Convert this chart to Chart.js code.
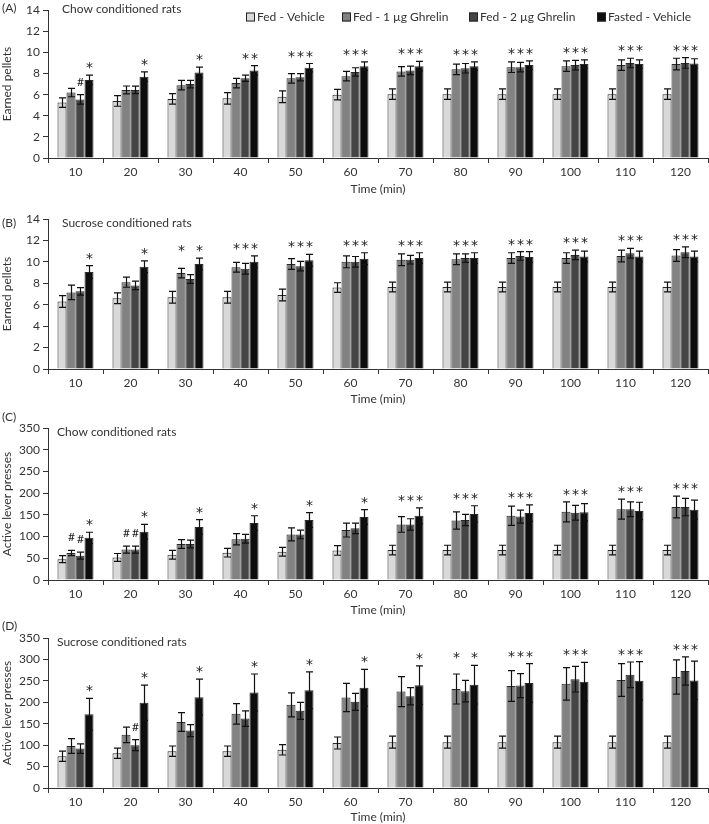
<!DOCTYPE html>
<html>
<head>
<meta charset="utf-8">
<script src="https://cdn.jsdelivr.net/npm/chart.js@4.4.1/dist/chart.umd.min.js"></script>
<style>
  html, body { margin: 0; padding: 0; background: #fff; }
  #wrap { position: relative; width: 709px; height: 824px; }
  .panel { position: absolute; left: 0; width: 709px; }
  canvas { display: block; }
</style>
</head>
<body>
<div id="wrap">
  <div class="panel" style="top:0px"><canvas id="cA" width="709" height="196"></canvas></div>
  <div class="panel" style="top:198px"><canvas id="cB" width="709" height="208"></canvas></div>
  <div class="panel" style="top:406px"><canvas id="cC" width="709" height="211"></canvas></div>
  <div class="panel" style="top:617px"><canvas id="cD" width="709" height="207"></canvas></div>
</div>
<script>
// ---- data ----
var times = ['10', '20', '30', '40', '50', '60', '70', '80', '90', '100', '110', '120'];
var groupNames = ['Fed - Vehicle', 'Fed - 1 \u00b5g Ghrelin', 'Fed - 2 \u00b5g Ghrelin', 'Fasted - Vehicle'];
var barColors = ['#d9d9d9', '#828282', '#454545', '#0d0d0d'];

// (A) chow conditioned, earned pellets
var aVeh      = [5.25, 5.4, 5.6, 5.65, 5.8, 6.0, 6.05, 6.05, 6.05, 6.05, 6.05, 6.05];
var aVehErr   = [0.45, 0.5, 0.5, 0.55, 0.55, 0.5, 0.5, 0.5, 0.5, 0.5, 0.5, 0.5];
var a1ug      = [6.2, 6.45, 6.9, 7.1, 7.55, 7.75, 8.2, 8.4, 8.6, 8.7, 8.8, 8.9];
var a1ugErr   = [0.4, 0.37, 0.45, 0.45, 0.45, 0.45, 0.45, 0.5, 0.5, 0.5, 0.5, 0.55];
var a2ug      = [5.55, 6.45, 7.0, 7.55, 7.65, 8.15, 8.3, 8.5, 8.6, 8.8, 9.0, 9.0];
var a2ugErr   = [0.45, 0.35, 0.35, 0.3, 0.35, 0.4, 0.4, 0.45, 0.45, 0.45, 0.45, 0.5];
var aFast     = [7.4, 7.7, 8.1, 8.3, 8.55, 8.7, 8.7, 8.7, 8.8, 8.9, 8.9, 8.95];
var aFastErr  = [0.45, 0.45, 0.5, 0.45, 0.4, 0.4, 0.45, 0.4, 0.4, 0.4, 0.4, 0.45];
var aSig = [['', '', '#', '*'], ['', '', '', '*'], ['', '', '', '*'], ['', '', '*', '*'],
            ['', '*', '*', '*'], ['', '*', '*', '*'], ['', '*', '*', '*'], ['', '*', '*', '*'],
            ['', '*', '*', '*'], ['', '*', '*', '*'], ['', '*', '*', '*'], ['', '*', '*', '*']];

// (B) sucrose conditioned, earned pellets
var bVeh      = [6.3, 6.6, 6.7, 6.7, 6.9, 7.6, 7.65, 7.65, 7.65, 7.65, 7.65, 7.65];
var bVehErr   = [0.55, 0.5, 0.55, 0.55, 0.55, 0.45, 0.45, 0.45, 0.45, 0.45, 0.45, 0.45];
var b1ug      = [7.15, 8.1, 8.95, 9.5, 9.8, 10.0, 10.2, 10.25, 10.35, 10.35, 10.55, 10.6];
var b1ugErr   = [0.68, 0.47, 0.45, 0.45, 0.5, 0.55, 0.55, 0.5, 0.5, 0.5, 0.55, 0.55];
var b2ug      = [7.25, 7.8, 8.4, 9.35, 9.6, 10.0, 10.2, 10.35, 10.55, 10.65, 10.8, 10.9];
var b2ugErr   = [0.35, 0.4, 0.4, 0.5, 0.45, 0.5, 0.4, 0.4, 0.4, 0.45, 0.45, 0.5];
var bFast     = [9.05, 9.55, 9.8, 10.0, 10.15, 10.3, 10.35, 10.35, 10.45, 10.5, 10.5, 10.5];
var bFastErr  = [0.6, 0.55, 0.55, 0.55, 0.55, 0.55, 0.5, 0.5, 0.5, 0.5, 0.5, 0.5];
var bSig = [['', '', '', '*'], ['', '', '', '*'], ['', '*', '', '*'], ['', '*', '*', '*'],
            ['', '*', '*', '*'], ['', '*', '*', '*'], ['', '*', '*', '*'], ['', '*', '*', '*'],
            ['', '*', '*', '*'], ['', '*', '*', '*'], ['', '*', '*', '*'], ['', '*', '*', '*']];

// (C) chow conditioned, active lever presses
var cVeh      = [48, 52, 58, 63, 65, 68, 69, 69, 69, 69, 69, 69];
var cVehErr   = [8, 9, 10, 10, 10, 11, 11, 11, 11, 11, 11, 11];
var c1ug      = [62, 70, 83, 94, 105, 115, 128, 137, 148, 157, 163, 168];
var c1ugErr   = [6, 8, 10, 13, 15, 16, 18, 20, 22, 23, 23, 25];
var c2ug      = [56, 70, 83, 95, 105, 119, 128, 138, 146, 155, 163, 168];
var c2ugErr   = [8, 8, 9, 10, 10, 12, 13, 13, 15, 17, 17, 20];
var cFast     = [97, 111, 122, 131, 138, 145, 148, 152, 154, 156, 159, 162];
var cFastErr  = [13, 17, 17, 17, 17, 17, 18, 19, 19, 20, 20, 22];
var cSig = [['', '#', '#', '*'], ['', '#', '#', '*'], ['', '', '', '*'], ['', '', '', '*'],
            ['', '', '', '*'], ['', '', '', '*'], ['', '*', '*', '*'], ['', '*', '*', '*'],
            ['', '*', '*', '*'], ['', '*', '*', '*'], ['', '*', '*', '*'], ['', '*', '*', '*']];

// (D) sucrose conditioned, active lever presses
var dVeh      = [74, 81, 86, 86, 89, 105, 107, 107, 107, 107, 107, 107];
var dVehErr   = [12, 12, 12, 12, 12, 14, 14, 14, 14, 14, 14, 14];
var d1ug      = [98, 124, 154, 173, 194, 211, 225, 231, 238, 243, 252, 259];
var d1ugErr   = [17, 18, 22, 24, 28, 33, 35, 35, 36, 38, 38, 40];
var d2ug      = [92, 100, 134, 162, 180, 201, 214, 226, 239, 254, 264, 273];
var d2ugErr   = [11, 13, 14, 18, 20, 20, 20, 25, 28, 30, 30, 33];
var dFast     = [172, 199, 212, 223, 228, 234, 240, 241, 245, 248, 250, 251];
var dFastErr  = [37, 41, 42, 43, 43, 43, 45, 45, 45, 45, 45, 45];
var dSig = [['', '', '', '*'], ['', '', '#', '*'], ['', '', '', '*'], ['', '', '', '*'],
            ['', '', '', '*'], ['', '', '', '*'], ['', '', '', '*'], ['', '*', '', '*'],
            ['', '*', '*', '*'], ['', '*', '*', '*'], ['', '*', '*', '*'], ['', '*', '*', '*']];

// ---- styling ----
var FONT = 'Lato, "DejaVu Sans", sans-serif';
var INK = '#333333';

// error bars + significance marks drawn through the y scale
var errorBarPlugin = {
  id: 'errbars',
  afterDatasetsDraw: function(chart) {
    var ctx = chart.ctx, y = chart.scales.y;
    var sig = chart.options.plugins.errbars.marks || [];
    ctx.save();
    ctx.strokeStyle = '#111';
    ctx.lineWidth = 1.2;
    var tops = [];
    chart.data.datasets.forEach(function(ds, i) {
      var meta = chart.getDatasetMeta(i);
      tops[i] = [];
      meta.data.forEach(function(bar, j) {
        var v = ds.data[j], e = ds.errors[j];
        var yt = y.getPixelForValue(v + e), yb = y.getPixelForValue(v - e);
        var x = Math.round(bar.x) + 0.5, cw = 3.5;
        tops[i][j] = yt;
        ctx.beginPath();
        ctx.moveTo(x, yt); ctx.lineTo(x, yb);
        ctx.moveTo(x - cw, yt); ctx.lineTo(x + cw, yt);
        ctx.moveTo(x - cw, yb); ctx.lineTo(x + cw, yb);
        ctx.stroke();
      });
    });
    ctx.fillStyle = '#222';
    ctx.textAlign = 'center';
    ctx.textBaseline = 'alphabetic';
    sig.forEach(function(row, j) {
      var starTop = Infinity;
      row.forEach(function(m, i) { if (m === '*') starTop = Math.min(starTop, tops[i][j]); });
      row.forEach(function(m, i) {
        if (!m) return;
        var bx = Math.round(chart.getDatasetMeta(i).data[j].x) + 0.5;
        if (m === '*') {
          ctx.font = '14px "DejaVu Sans", sans-serif';
          ctx.fillText('*', bx, starTop - 3);
        } else {
          ctx.font = '12px ' + FONT;
          ctx.fillText(m, bx, tops[i][j] - 9);
        }
      });
    });
    ctx.restore();
  }
};

// panel letter, in-plot title and legend
var panelTextPlugin = {
  id: 'panelText',
  afterDraw: function(chart) {
    var o = chart.options.plugins.panelText;
    var ctx = chart.ctx;
    ctx.save();
    ctx.fillStyle = INK;
    ctx.font = '12px ' + FONT;
    ctx.textBaseline = 'middle';
    ctx.textAlign = 'left';
    ctx.fillText(o.letter, o.letterX, o.letterY);
    ctx.fillText(o.title, o.titleX, o.titleY);
    if (o.legend) {
      o.legendX.forEach(function(lx, i) {
        ctx.fillStyle = barColors[i];
        ctx.fillRect(lx, o.legendY - 4.5, 9, 9);
        ctx.strokeStyle = '#222';
        ctx.lineWidth = 1;
        ctx.strokeRect(lx + 0.5, o.legendY - 4, 8, 8);
        ctx.fillStyle = INK;
        ctx.fillText(groupNames[i], lx + 11, o.legendY + 0.5);
      });
    }
    ctx.restore();
  }
};

function makePanel(id, p) {
  var datasets = p.values.map(function(vals, i) {
    return {
      label: groupNames[i],
      data: vals,
      errors: p.errors[i],
      backgroundColor: barColors[i],
      borderColor: '#2a2a2a',
      borderWidth: 1,
      categoryPercentage: 0.655,
      barPercentage: 1.0
    };
  });
  var tickFont = { family: FONT, size: 12 };
  return new Chart(document.getElementById(id), {
    type: 'bar',
    data: { labels: times, datasets: datasets },
    plugins: [errorBarPlugin, panelTextPlugin],
    options: {
      responsive: false,
      animation: false,
      events: [],
      layout: { padding: { top: p.chartTop - p.canvasTop, left: 0, right: 1, bottom: 0 } },
      plugins: {
        legend: { display: false },
        tooltip: { enabled: false },
        errbars: { marks: p.marks },
        panelText: {
          letter: p.letter, letterX: 2, letterY: p.letterY - p.canvasTop,
          title: p.title, titleX: p.titleX, titleY: p.titleY - p.canvasTop,
          legend: !!p.legend, legendX: [246, 342, 469, 597], legendY: 17 - p.canvasTop
        }
      },
      scales: {
        x: {
          grid: { offset: true, drawOnChartArea: false, drawTicks: true, tickLength: 5, color: INK },
          border: { display: true, color: INK, width: 1 },
          ticks: { color: INK, font: tickFont, padding: 2, maxRotation: 0, autoSkip: false },
          title: { display: true, text: 'Time (min)', color: INK, font: tickFont, padding: 0 },
          afterFit: function(s) { s.height = p.canvasBottom - p.chartBottom; }
        },
        y: {
          min: 0, max: p.max,
          grid: { drawOnChartArea: false, drawTicks: true, tickLength: 5, color: INK },
          border: { display: true, color: INK, width: 1 },
          ticks: { stepSize: p.step, color: INK, font: tickFont, padding: 3 },
          title: { display: true, text: p.yTitle, color: INK, font: tickFont, padding: 0 },
          afterFit: function(s) { s.width = 48; }
        }
      }
    }
  });
}

makePanel('cA', {
  values: [aVeh, a1ug, a2ug, aFast], errors: [aVehErr, a1ugErr, a2ugErr, aFastErr], marks: aSig,
  canvasTop: 0, canvasBottom: 196, chartTop: 5, chartBottom: 158, max: 14, step: 2,
  yTitle: 'Earned pellets', letter: '(A)', letterY: 8,
  title: 'Chow conditioned rats', titleX: 62, titleY: 9, legend: true
});
makePanel('cB', {
  values: [bVeh, b1ug, b2ug, bFast], errors: [bVehErr, b1ugErr, b2ugErr, bFastErr], marks: bSig,
  canvasTop: 198, canvasBottom: 406, chartTop: 219, chartBottom: 369, max: 14, step: 2,
  yTitle: 'Earned pellets', letter: '(B)', letterY: 223,
  title: 'Sucrose conditioned rats', titleX: 62, titleY: 223
});
makePanel('cC', {
  values: [cVeh, c1ug, c2ug, cFast], errors: [cVehErr, c1ugErr, c2ugErr, cFastErr], marks: cSig,
  canvasTop: 406, canvasBottom: 617, chartTop: 428, chartBottom: 580, max: 350, step: 50,
  yTitle: 'Active lever presses', letter: '(C)', letterY: 417,
  title: 'Chow conditioned rats', titleX: 57, titleY: 432
});
makePanel('cD', {
  values: [dVeh, d1ug, d2ug, dFast], errors: [dVehErr, d1ugErr, d2ugErr, dFastErr], marks: dSig,
  canvasTop: 617, canvasBottom: 824, chartTop: 638, chartBottom: 788, max: 350, step: 50,
  yTitle: 'Active lever presses', letter: '(D)', letterY: 626,
  title: 'Sucrose conditioned rats', titleX: 57, titleY: 642
});
</script>
</body>
</html>
